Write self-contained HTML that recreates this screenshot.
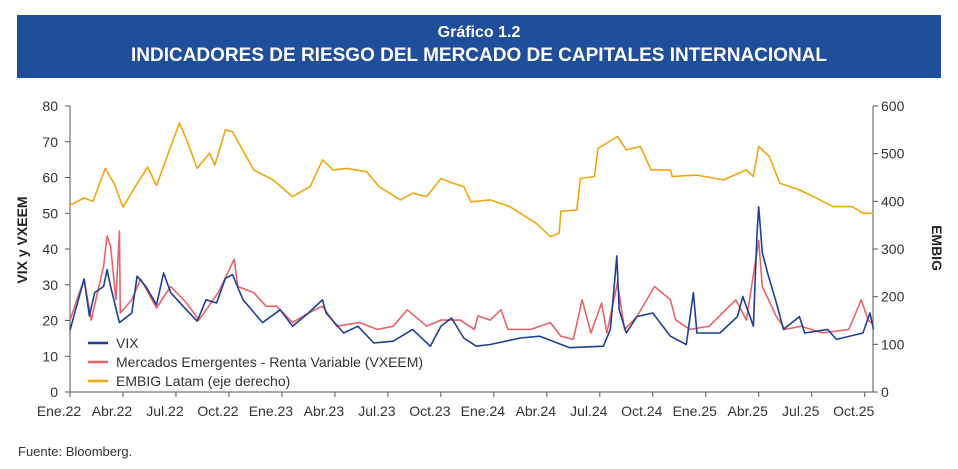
<!DOCTYPE html>
<html><head><meta charset="utf-8"><style>
body{margin:0;background:#fff;width:958px;height:469px;overflow:hidden;font-family:"Liberation Sans",sans-serif;}
#banner{position:absolute;left:17px;top:15px;width:924px;height:63px;background:#1f4e9a;color:#fff;text-align:center;font-weight:bold;}
</style></head><body>
<div id="banner">
<div style="font-size:16px;margin-top:9px">Gráfico 1.2</div>
<div style="font-size:19px;margin-top:3px">INDICADORES DE RIESGO DEL MERCADO DE CAPITALES INTERNACIONAL</div>
</div>
<svg id="chart" width="958" height="469" style="position:absolute;left:0;top:0"></svg>
<script>
const monthLabels=["Ene.22","Abr.22","Jul.22","Oct.22","Ene.23","Abr.23","Jul.23","Oct.23","Ene.24","Abr.24","Jul.24","Oct.24","Ene.25","Abr.25","Jul.25","Oct.25"];
const leftTicks=[0,10,20,30,40,50,60,70,80];
const rightTicks=[0,100,200,300,400,500,600];
const embigT=[0,0.8,1.3,2,2.5,3,3.8,4.4,4.9,5.7,6.2,6.6,7.2,7.9,8.2,8.8,9.2,10.4,11.5,12.6,13.6,14.3,14.9,15.7,16.8,17.5,18.7,19.4,20.2,21,21.7,22.3,22.7,23.8,24.9,26.4,27.2,27.7,27.8,28.7,28.9,29.7,29.9,31,31.5,32.3,32.9,34,34.1,35.5,37,38.3,38.7,39,39.6,40.2,41.3,42.1,43.2,44.3,44.9,45.5];
const embigV=[392,407,400,469,437,388,437,472,433,515,564,529,469,501,476,550,546,466,445,410,431,487,466,469,462,431,403,417,410,448,438,431,399,403,389,354,326,333,379,382,448,452,511,536,508,515,466,466,452,455,445,466,452,515,494,438,424,410,389,389,375,375];
const vixT=[0,0.8,1.1,1.4,1.9,2.1,2.3,2.8,3.5,3.8,4.3,4.9,5.3,5.7,6.4,7.2,7.7,8.3,8.8,9.2,9.8,10.9,11.9,12.6,13.5,14.3,14.5,15.5,16.3,17.2,18.3,19.4,20.4,21,21.6,22.3,23,23.8,25.5,26.6,28.3,30.2,30.6,30.96,31.1,31.5,32.1,33,34,34.9,35.3,35.5,36.8,37.8,38.1,38.7,38.9,39,39.2,39.5,40,40.4,41.3,41.6,42.9,43.4,44.9,45.3,45.5];
const vixV=[17.3,31.6,21.3,27.8,29.5,34.2,29.5,19.4,22.1,32.4,29.5,24.4,33.3,27.8,24,19.8,25.8,24.9,31.8,32.8,25.8,19.4,23,18.4,22.1,25.8,22.1,16.5,18.4,13.7,14.2,17.5,12.8,18.4,20.7,15.1,12.8,13.3,15.1,15.6,12.4,12.8,17.5,38,23,16.5,21.1,22.1,15.6,13.3,27.8,16.5,16.5,21.1,26.7,18.4,44.3,51.8,39,33.3,24.9,17.5,21.1,16.5,17.5,14.7,16.5,22.1,17.5];
const vxT=[0,0.8,1.2,1.9,2.1,2.3,2.6,2.8,2.85,3.5,4,4.9,5.7,6.6,7.3,8.4,9.3,9.5,10.4,11.1,11.7,12.6,13.5,14.3,15.1,16.4,17.4,18.3,19.1,20.2,21,22.1,22.9,23.1,23.8,24.4,24.8,26.1,27.2,27.8,28.5,29,29.5,30.1,30.4,31,31.4,32.1,33.1,34,34.3,35.1,36.2,37.7,38.3,39,39.2,40,40.5,41.4,42.6,44.1,44.8,45.2,45.5];
const vxV=[20.1,31.6,20.1,35.2,43.6,40.8,25.8,45,22.1,25.8,31.6,23.5,29.5,24.9,20.1,27.8,37.1,29.5,27.8,24,24,19.4,22.1,24,18.4,19.4,17.5,18.4,23,18.4,20.1,20.1,17.5,21.3,20.1,23,17.5,17.5,19.4,15.6,14.7,25.8,16.5,24.9,16.5,30.6,17.5,21.1,29.5,25.8,20.1,17.5,18.4,25.8,20.1,42.4,29.5,21.1,17.5,18.4,16.5,17.5,25.8,20.1,19];
const NS="http://www.w3.org/2000/svg",svg=document.getElementById('chart');
const X0=70,X1=873,Y0=392,Y1=106,PM=17.66;
const xs=t=>X0+t*PM, yl=v=>Y0-(v/80)*(Y0-Y1), yr=v=>Y0-(v/600)*(Y0-Y1);
function el(tag,a,txt){const e=document.createElementNS(NS,tag);for(const k in a)e.setAttribute(k,a[k]);if(txt!==undefined)e.textContent=txt;svg.appendChild(e);return e;}
const ax={stroke:"#555","stroke-width":1};
let e=el('line',Object.assign({x1:X0,y1:Y1,x2:X0,y2:Y0},ax));

e=el('line',Object.assign({x1:X1,y1:Y1,x2:X1,y2:Y0},ax));

e=el('line',Object.assign({x1:X0,y1:Y0,x2:X1,y2:Y0},ax));

leftTicks.forEach(v=>{el('line',Object.assign({x1:X0-5,x2:X0,y1:yl(v),y2:yl(v)},ax));
 e=el('text',{x:58,y:yl(v)+5,"text-anchor":"end","font-size":14,fill:"#333"},v);
 });
rightTicks.forEach(v=>{el('line',Object.assign({x1:X1,x2:X1+5,y1:yr(v),y2:yr(v)},ax));
 e=el('text',{x:881,y:yr(v)+5,"text-anchor":"start","font-size":14,fill:"#333"},v);
 });
monthLabels.forEach((m,i)=>{const x=xs(i*3);el('line',Object.assign({x1:x,x2:x,y1:Y0,y2:Y0+5},ax));
 e=el('text',{x:x-11,y:Y0+24,"text-anchor":"middle","font-size":14,fill:"#333"},m);
 });
function line(T,V,sc,col,name){const d=T.map((t,i)=>(i?'L':'M')+xs(t).toFixed(1)+','+sc(V[i]).toFixed(1)).join('');
 const p=el('path',{d:d,fill:"none",stroke:col,"stroke-width":1.6,"stroke-linejoin":"round"});
 }
line(embigT,embigV,yr,"#efa70f","embig-line");
line(vxT,vxV,yl,"#e8636a","vxeem-line");
line(vixT,vixV,yl,"#1f3f94","vix-line");
e=el('text',{x:0,y:0,transform:"translate(27,240) rotate(-90)","text-anchor":"middle","font-size":14,"font-weight":"bold",fill:"#222"},"VIX y VXEEM");

e=el('text',{x:0,y:0,transform:"translate(932,248) rotate(90)","text-anchor":"middle","font-size":14,"font-weight":"bold",fill:"#222"},"EMBIG");

[["VIX","#1f3f94"],["Mercados Emergentes - Renta Variable (VXEEM)","#e8636a"],["EMBIG Latam (eje derecho)","#efa70f"]].forEach((l,i)=>{
 const y=343+i*19;
 e=el('line',{x1:88,x2:108,y1:y,y2:y,stroke:l[1],"stroke-width":2.5});
 
 e=el('text',{x:116,y:y+5,"font-size":14,fill:"#333"},l[0]);
 });
e=el('text',{x:18,y:456,"font-size":13,fill:"#333"},"Fuente: Bloomberg.");

</script>
</body></html>
